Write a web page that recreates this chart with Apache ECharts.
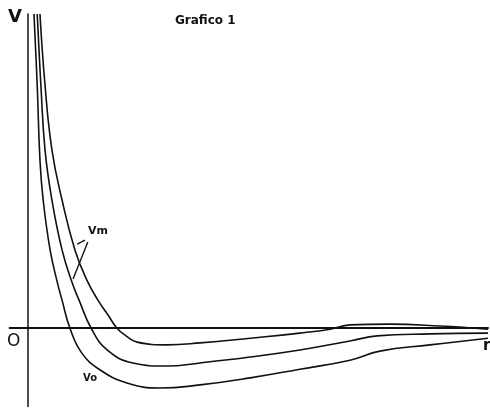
<!DOCTYPE html>
<html>
<head>
<meta charset="utf-8">
<script src="https://cdn.jsdelivr.net/npm/echarts@6/dist/echarts.min.js"></script>
<style>
  html, body { margin: 0; padding: 0; background: #fff; }
  #grafico { width: 490px; height: 408px; }
</style>
</head>
<body>
<div id="grafico"></div>
<script>
// curve Vo (inner) : [r, V]
var vo = [
  [0.13, 8.0], [0.2, 6.19], [0.26, 4.28], [0.33, 3.26], [0.48, 1.99],
  [0.64, 1.15], [0.74, 0.71], [0.91, 0.0], [1.17, -0.64], [1.57, -1.07],
  [2.15, -1.40], [2.87, -1.53], [3.74, -1.45], [4.83, -1.27], [5.91, -1.05],
  [7.0, -0.82], [7.65, -0.59], [8.74, -0.43], [10.0, -0.26]
];
// curve Vm, middle
var vmA = [
  [0.2, 8.0], [0.28, 6.19], [0.37, 4.54], [0.52, 3.26], [0.74, 1.99],
  [0.96, 1.15], [1.11, 0.71], [1.37, 0.0], [1.72, -0.56], [2.28, -0.89],
  [3.02, -0.97], [3.74, -0.89], [4.83, -0.74], [5.91, -0.56], [7.0, -0.33],
  [7.59, -0.2], [8.74, -0.15], [10.0, -0.13]
];
// curve Vm, outer
var vmB = [
  [0.26, 8.0], [0.37, 6.19], [0.52, 4.54], [0.74, 3.26], [1.02, 1.99],
  [1.28, 1.22], [1.52, 0.71], [1.74, 0.33], [1.93, 0.0], [2.13, -0.2],
  [2.37, -0.36], [3.02, -0.43], [3.74, -0.38], [4.83, -0.26], [5.91, -0.13],
  [6.57, -0.03], [7.0, 0.08], [7.87, 0.1], [8.96, 0.05], [10.0, -0.03]
];
// leader lines of the "Vm" label
var vmLeaderLong = [[1.3, 2.19], [0.98, 1.25]];
var vmLeaderShort = [[1.07, 2.14], [1.24, 2.24]];

var myChart = echarts.init(document.getElementById("grafico"));

function curva(name, data, extra) {
  var s = {
    name: name,
    type: "line",
    data: data,
    smooth: 0.45,
    smoothConstraint: false,
    showSymbol: false,
    silent: true,
    lineStyle: { color: "#111", width: 1.6 },
  };
  if (extra) s.markLine = extra;
  return s;
}

var option = {
  animation: false,
  title: {
    text: "Grafico 1",
    left: 170,
    top: 10,
    textStyle: {
      fontFamily: "DejaVu Sans",
      fontWeight: "bold",
      fontSize: 12,
      color: "#111",
    },
  },
  grid: { left: 9.6, right: 2, top: 14, bottom: 1.5 },
  xAxis: {
    type: "value",
    min: -0.4,
    max: 10,
    axisLine: { onZero: true, lineStyle: { color: "#111", width: 2 } },
    axisTick: { show: false },
    axisLabel: { show: false },
    splitLine: { show: false },
  },
  yAxis: {
    type: "value",
    min: -2,
    max: 8,
    axisLine: { onZero: true, lineStyle: { color: "#111", width: 1.5 } },
    axisTick: { show: false },
    axisLabel: { show: false },
    splitLine: { show: false },
  },
  graphic: [
    { type: "text", left: 8, top: 8, style: { text: "V", font: "bold 18px 'DejaVu Sans'", fill: "#111" } },
    { type: "text", left: 7, top: 333, style: { text: "O", font: "17px 'DejaVu Sans'", fill: "#111" } },
    { type: "text", left: 483, top: 339, style: { text: "r", font: "bold 15px 'DejaVu Sans'", fill: "#111" } },
    { type: "text", left: 88, top: 226, style: { text: "Vm", font: "bold 11px 'DejaVu Sans'", fill: "#111" } },
    { type: "text", left: 83, top: 373, style: { text: "Vo", font: "bold 10px 'DejaVu Sans'", fill: "#111" } },
  ],
  series: [
    curva("Vo", vo),
    curva("Vm", vmA, {
      silent: true,
      symbol: "none",
      label: { show: false },
      lineStyle: { color: "#111", width: 1.4, type: "solid" },
      data: [
        [{ coord: vmLeaderLong[0] }, { coord: vmLeaderLong[1] }],
        [{ coord: vmLeaderShort[0] }, { coord: vmLeaderShort[1] }],
      ],
    }),
    curva("Vm2", vmB),
  ],
};

myChart.setOption(option);
</script>
</body>
</html>
